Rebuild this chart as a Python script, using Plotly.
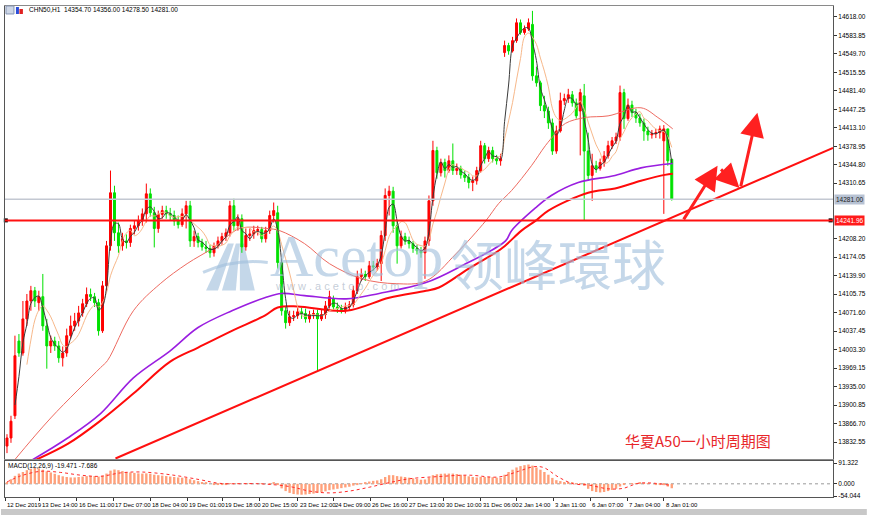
import plotly.graph_objects as go
import pandas as pd

# ---------------- data ----------------
OPEN = [13825,13840,13881,14019,13997,14060,14093,14112,14090,14101,
        14047,14010,14019,14010,13988,13997,14029,14047,14056,14071,
        14088,14105,14101,14090,14038,14121,14195,14293,14219,14195,
        14204,14201,14227,14232,14241,14254,14291,14256,14227,14253,
        14260,14254,14251,14241,14234,14254,14269,14204,14212,14201,
        14193,14190,14182,14195,14204,14212,14219,14269,14232,14245,
        14193,14214,14217,14223,14225,14208,14223,14251,14256,14164,
        14075,14053,14064,14066,14073,14070,14060,14068,14070,14060,
        14068,14084,14097,14082,14079,14077,14082,14086,14112,14138,
        14142,14138,14158,14156,14162,14214,14288,14296,14232,14195,
        14212,14204,14199,14190,14186,14182,14204,14278,14371,14330,
        14349,14334,14352,14334,14338,14326,14321,14312,14315,14334,
        14380,14356,14371,14356,14352,14552,14565,14555,14574,14607,
        14589,14596,14604,14509,14496,14454,14444,14422,14370,14407,
        14463,14467,14474,14459,14444,14472,14370,14325,14343,14338,
        14349,14361,14380,14389,14396,14478,14430,14455,14441,14431,
        14422,14407,14400,14402,14404,14389,14411,14354.70]
HIGH = [13847,13881,14029,14032,14093,14106,14121,14119,14112,14143,
        14060,14029,14027,14019,14009,14042,14066,14071,14084,14097,
        14118,14116,14108,14097,14130,14204,14334,14306,14238,14219,
        14216,14234,14241,14251,14264,14310,14301,14267,14260,14269,
        14269,14265,14260,14251,14264,14278,14278,14223,14219,14208,
        14204,14197,14201,14212,14219,14227,14278,14282,14253,14253,
        14227,14227,14232,14232,14230,14230,14260,14275,14269,14171,
        14084,14075,14075,14081,14081,14079,14075,14077,14077,14077,
        14093,14112,14103,14090,14086,14090,14093,14121,14149,14153,
        14149,14167,14167,14171,14223,14301,14306,14304,14241,14223,
        14219,14212,14204,14197,14193,14212,14288,14389,14378,14356,
        14356,14362,14384,14347,14343,14334,14328,14323,14341,14389,
        14385,14378,14378,14363,14365,14574,14570,14581,14615,14613,
        14602,14615,14629,14526,14500,14472,14452,14430,14417,14478,
        14476,14485,14481,14467,14485,14494,14404,14365,14352,14356,
        14370,14389,14396,14404,14491,14485,14467,14463,14448,14439,
        14430,14415,14409,14411,14417,14418,14411,14356.00]
LOW = [13812,13831,13875,13990,13992,14047,14075,14082,14075,14038,
       13968,13997,14001,13979,13972,13990,14023,14038,14046,14064,
       14082,14093,14082,14029,14034,14112,14186,14204,14182,14186,
       14190,14193,14216,14223,14232,14238,14249,14192,14219,14245,
       14245,14241,14232,14227,14230,14227,14193,14193,14192,14186,
       14182,14173,14175,14190,14197,14204,14212,14223,14223,14182,
       14186,14204,14208,14214,14201,14201,14217,14238,14153,14066,
       14042,14047,14056,14060,14060,14053,14053,14060,13964,14056,
       14060,14079,14075,14071,14070,14070,14075,14081,14106,14130,
       14130,14134,14149,14149,14130,14204,14251,14219,14162,14190,
       14197,14190,14182,14179,14173,14134,14195,14269,14319,14323,
       14321,14330,14326,14326,14319,14313,14301,14296,14308,14330,
       14347,14350,14349,14345,14343,14544,14548,14552,14570,14585,
       14585,14592,14500,14489,14444,14431,14411,14363,14365,14404,
       14455,14459,14452,14430,14362,14241,14315,14278,14330,14334,
       14341,14356,14374,14383,14389,14411,14426,14433,14422,14415,
       14389,14389,14393,14394,14393,14254,14343,14278.50]
CLOSE = [13840,13871,13992,13997,14060,14093,14112,14093,14101,14047,
         14010,14019,14010,13988,13997,14029,14047,14056,14071,14088,
         14105,14101,14090,14038,14121,14195,14293,14219,14195,14208,
         14201,14227,14232,14241,14254,14291,14256,14227,14253,14260,
         14254,14251,14241,14234,14254,14269,14204,14212,14201,14193,
         14190,14182,14195,14204,14212,14219,14269,14232,14245,14193,
         14214,14217,14223,14225,14208,14223,14251,14260,14164,14075,
         14053,14064,14066,14073,14070,14060,14068,14070,14060,14068,
         14084,14101,14082,14079,14077,14082,14086,14112,14138,14142,
         14138,14158,14156,14162,14214,14288,14296,14232,14195,14212,
         14204,14199,14190,14186,14182,14204,14278,14371,14330,14349,
         14334,14352,14334,14338,14326,14321,14312,14315,14334,14380,
         14356,14371,14356,14352,14356,14565,14555,14574,14607,14589,
         14596,14607,14509,14496,14454,14444,14422,14370,14407,14463,
         14467,14474,14459,14435,14478,14370,14325,14343,14338,14349,
         14361,14380,14389,14396,14478,14430,14455,14441,14431,14422,
         14407,14400,14402,14404,14411,14411,14352,14281.00]
BARS = list(range(len(CLOSE)))

# long moving averages (bar position, price)
MA_SALMON_X = [1.75, 11, 23.5, 25.25, 31.75, 38.5, 45.25, 51.75, 58.5, 65.25, 68.5, 74.75, 81, 89.25,
               97.75, 105.25, 112.75, 120.25, 123.5, 126.75, 131.75, 135.25, 137.75, 140.25, 145.25,
               151, 159.25, 163.5, 167.25]
MA_SALMON_Y = [13798, 13877, 13970, 13983, 14075, 14125, 14162, 14191, 14227, 14227, 14223, 14199, 14162,
               14134, 14125, 14130, 14180, 14241, 14273, 14297, 14343, 14380, 14402, 14421, 14432,
               14435, 14450, 14432, 14411]
MA_PURPLE_X = [6, 15.25, 23.5, 31.75, 41, 48, 56.5, 64.75, 69, 74.75, 85.25, 93.5, 105.25, 114.25,
               125.25, 126.75, 132.75, 136.75, 143.5, 152.75, 159.25, 167.25]
MA_PURPLE_Y = [13798, 13840, 13885, 13951, 14001, 14044, 14075, 14099, 14107, 14103, 14097, 14107,
               14127, 14158, 14204, 14223, 14265, 14288, 14312, 14325, 14339, 14347]
MA_RED_X = [6.75, 15.25, 23.5, 31.75, 41, 48, 56.5, 64.75, 68, 73, 85.25, 96, 105.25, 108.5, 116,
            124.25, 129.25, 132.75, 136, 146, 152.75, 159.25, 165.25, 167.25]
MA_RED_Y = [13798, 13829, 13872, 13922, 13981, 14007, 14038, 14066, 14081, 14083, 14075, 14099,
            14112, 14118, 14153, 14190, 14223, 14241, 14260, 14293, 14301, 14315, 14326, 14328]

# MACD(12,26,9)
MACD_MAIN = [5,20,35,45,52,60,66,70,68,62,
             55,50,44,38,33,30,28,28,30,32,
             34,35,34,32,36,45,58,63,60,56,
             52,50,48,46,45,46,44,40,38,36,
             34,32,30,28,27,26,20,16,12,8,
             4,0,-3,-4,-4,-3,1,2,3,0,
             -1,-1,0,0,-1,0,2,4,-5,-20,
             -32,-40,-45,-47,-48,-47,-45,-43,-40,-37,
             -33,-28,-25,-22,-19,-16,-13,-8,-2,3,
             6,10,13,15,20,30,38,38,34,32,
             30,27,24,21,18,19,26,38,42,44,
             45,45,45,43,40,37,33,30,28,31,
             30,30,29,27,26,40,52,62,72,78,
             82,85,80,72,62,52,40,26,16,12,
             8,6,4,2,2,-8,-22,-32,-36,-38,
             -36,-32,-27,-22,-12,-5,0,2,3,4,
             3,2,0,-2,-4,-6,-12,-19.471]
MACD_SIGNAL_X = [0, 3.5, 8.5, 13.5, 18.5, 23.5, 28.5, 33.5, 41, 48.5, 53.5, 63.5, 71, 76, 81, 86,
                 91, 96, 101, 108.5, 116, 123.5, 128.5, 132.25, 134.75, 138.5, 142.25, 146, 151,
                 154.75, 158.5, 162.25, 167]
MACD_SIGNAL_Y = [8, 35, 55, 50, 38, 33, 48, 52, 40, 18, 2, 0, -12, -32, -40, -32, -15, 5, 22, 32,
                 38, 30, 55, 75, 72, 30, 0, -5, -22, -20, 2, 3, -7.686]

# price-axis ticks (the two hidden under the level boxes are left out)
PRICE_TICKS = [14618.00, 14583.85, 14549.70, 14515.55, 14481.40, 14447.25, 14413.10, 14378.95,
               14344.80, 14310.65, 14208.20, 14174.05, 14139.90, 14105.75, 14071.60,
               14037.45, 14003.30, 13969.15, 13935.00, 13900.85, 13866.70, 13832.55]
MACD_TICKS = [91.322, 0.0, -54.044]

# horizontal levels / trend line / arrows
LEVEL_RED = 14241.96
LEVEL_BID = 14281.00
TREND_X = [27.25, 207.5]
TREND_Y = [13802, 14376]
ARROWS = [  # (tail bar, tail price, head bar, head price)
    (169.75, 14241, 178.5, 14343),
    (179.0, 14339, 184.0, 14302),
    (184.25, 14302, 188.5, 14441),
]

TIME_POS = [-0.45, 8.25, 17.5, 26.75, 36, 45.25, 54.25, 63.5, 73, 82, 91.25, 100.5,
            109.75, 119, 128, 137.25, 146.5, 155.75, 165]
TIME_TXT = ["12 Dec 2019", "13 Dec 14:00", "16 Dec 11:00", "17 Dec 07:00", "18 Dec 04:00",
            "19 Dec 01:00", "19 Dec 18:00", "20 Dec 15:00", "23 Dec 12:00", "24 Dec 09:00",
            "26 Dec 16:00", "27 Dec 13:00", "30 Dec 10:00", "31 Dec 06:00", "2 Jan 14:00",
            "3 Jan 11:00", "6 Jan 07:00", "7 Jan 04:00", "8 Jan 01:00"]

HEADER = "CHN50,H1  14354.70 14356.00 14278.50 14281.00"
TITLE_CN = "华夏A50一小时周期图"

# ---------------- figure ----------------
W, H = 870, 515
ML, MR, MT, MB = 4, 34, 5, 18
PW, PH = W - ML - MR, H - MT - MB


def px(x):
    return (x - ML) / PW


def py(y):
    return (H - MB - y) / PH


FONT = "Liberation Sans"
closes = pd.Series(CLOSE)
ma_fast = closes.rolling(3).mean()
ma_mid = closes.rolling(6).mean()

fig = go.Figure()

# MACD zero level
fig.add_shape(type="line", xref="x2 domain", yref="y2", x0=0, x1=1, y0=0, y1=0,
              line=dict(color="#9a9a9a", width=1, dash="dot"), layer="below")

fig.add_trace(go.Bar(x=BARS, y=MACD_MAIN, width=0.6, marker=dict(color="#ffa07a", line=dict(width=0)),
                     xaxis="x2", yaxis="y2", hoverinfo="skip"))
fig.add_trace(go.Scatter(x=MACD_SIGNAL_X, y=MACD_SIGNAL_Y, mode="lines", xaxis="x2", yaxis="y2",
                         line=dict(color="#ff2a2a", width=1, dash="dot", shape="spline"), hoverinfo="skip"))

# long MAs
fig.add_trace(go.Scatter(x=MA_SALMON_X, y=MA_SALMON_Y, mode="lines",
                         line=dict(color="#ee6a60", width=1, shape="spline"), hoverinfo="skip"))
fig.add_trace(go.Scatter(x=MA_PURPLE_X, y=MA_PURPLE_Y, mode="lines",
                         line=dict(color="#9a1ee0", width=1.6, shape="spline"), hoverinfo="skip"))
fig.add_trace(go.Scatter(x=MA_RED_X, y=MA_RED_Y, mode="lines",
                         line=dict(color="#ff0a0a", width=2, shape="spline"), hoverinfo="skip"))

# trend line
fig.add_trace(go.Scatter(x=TREND_X, y=TREND_Y, mode="lines",
                         line=dict(color="#ff1010", width=2), hoverinfo="skip", cliponaxis=True))

# candles
fig.add_trace(go.Candlestick(x=BARS, open=OPEN, high=HIGH, low=LOW, close=CLOSE,
                             increasing=dict(line=dict(color="#ff0000", width=1), fillcolor="#ff0000"),
                             decreasing=dict(line=dict(color="#00e000", width=1), fillcolor="#00e000"),
                             whiskerwidth=0, hoverinfo="skip"))

# short MAs
fig.add_trace(go.Scatter(x=BARS, y=ma_mid, mode="lines",
                         line=dict(color="#f7b88a", width=1, shape="spline"), hoverinfo="skip"))
fig.add_trace(go.Scatter(x=BARS, y=ma_fast, mode="lines",
                         line=dict(color="#3a3a3a", width=1, shape="spline"), hoverinfo="skip"))

# horizontal levels
fig.add_shape(type="line", xref="x domain", yref="y", x0=0, x1=1, y0=LEVEL_BID, y1=LEVEL_BID,
              line=dict(color="#c3c8d2", width=1.5))
fig.add_shape(type="line", xref="x domain", yref="y", x0=0, x1=1, y0=LEVEL_RED, y1=LEVEL_RED,
              line=dict(color="#ff1010", width=2))
fig.add_trace(go.Scatter(x=[-0.3, 206.9], y=[LEVEL_RED, LEVEL_RED], mode="markers",
                         marker=dict(symbol="square", size=4, color="black"), cliponaxis=False,
                         hoverinfo="skip"))

annotations = []
for tx, ty, hx, hy in ARROWS:
    annotations.append(dict(x=hx, y=hy, ax=tx, ay=ty, xref="x", yref="y", axref="x", ayref="y",
                            showarrow=True, arrowhead=2, arrowsize=1.6, arrowwidth=3,
                            arrowcolor="#ff2020", text="", standoff=0, startstandoff=0))

# right-axis labels for levels
annotations.append(dict(x=1, xref="paper", y=LEVEL_BID, yref="y", xanchor="left", xshift=1,
                        text="14281.00", showarrow=False, bgcolor="#b7c2d3", borderpad=1,
                        font=dict(family=FONT, size=6.5, color="#222222")))
annotations.append(dict(x=1, xref="paper", y=LEVEL_RED, yref="y", xanchor="left", xshift=1,
                        text="14241.96", showarrow=False, bgcolor="#ff1a1a", borderpad=1,
                        font=dict(family=FONT, size=6.5, color="white")))

# time labels
for tp, tt in zip(TIME_POS, TIME_TXT):
    annotations.append(dict(x=tp, xref="x2", y=py(505), yref="paper", xanchor="left", yanchor="middle",
                            xshift=0, text=tt, showarrow=False,
                            font=dict(family=FONT, size=6, color="black")))

# header and indicator label
annotations.append(dict(x=px(26), y=py(9), xref="paper", yref="paper", xanchor="left", yanchor="middle",
                        text=HEADER, showarrow=False, font=dict(family=FONT, size=6.5, color="black")))
annotations.append(dict(x=px(5), y=py(466), xref="paper", yref="paper", xanchor="left", yanchor="middle",
                        text="MACD(12,26,9) -19.471 -7.686", showarrow=False,
                        font=dict(family=FONT, size=6.5, color="black")))

# chinese title
annotations.append(dict(x=px(700), y=py(440), xref="paper", yref="paper", xanchor="center", yanchor="middle",
                        text=TITLE_CN, showarrow=False,
                        font=dict(family="Noto Sans CJK SC", size=15, color="#e8262a")))

# watermark
wm = "rgba(160,190,220,0.62)"
annotations.append(dict(x=px(357), y=py(256), xref="paper", yref="paper", xanchor="center", yanchor="middle",
                        text="Acetop", showarrow=False,
                        font=dict(family="Liberation Serif", size=60, color=wm)))
annotations.append(dict(x=px(560), y=py(262), xref="paper", yref="paper", xanchor="center", yanchor="middle",
                        text="领峰環球", showarrow=False,
                        font=dict(family="Noto Sans CJK SC", size=54, color=wm)))
annotations.append(dict(x=px(338), y=py(286), xref="paper", yref="paper", xanchor="center", yanchor="middle",
                        text="w w w . a c e t o p . c o m", showarrow=False,
                        font=dict(family="Liberation Sans", size=11, color="rgba(165,178,195,0.65)")))

shapes = []
# logo "A" stripes
for poly in [[(206, 290), (218, 290), (234, 243), (228, 243)],
             [(222, 290), (236, 290), (240, 243), (236, 243)],
             [(240, 290), (255, 290), (244, 243), (240, 243)]]:
    path = "M " + " L ".join(f"{px(a):.4f},{py(b):.4f}" for a, b in poly) + " Z"
    shapes.append(dict(type="path", xref="paper", yref="paper", path=path, fillcolor=wm,
                       line=dict(width=0), layer="below"))
shapes.append(dict(type="path", xref="paper", yref="paper",
                   path=f"M {px(203):.4f},{py(272):.4f} Q {px(235):.4f},{py(258):.4f} {px(268):.4f},{py(262):.4f}",
                   line=dict(color=wm, width=3), layer="below"))
# header icons
shapes.append(dict(type="rect", xref="paper", yref="paper", x0=px(5), x1=px(13), y0=py(13), y1=py(5),
                   fillcolor="#cdd6e6", line=dict(color="#8796b5", width=1)))
shapes.append(dict(type="rect", xref="paper", yref="paper", x0=px(15), x1=px(18), y0=py(13), y1=py(6),
                   fillcolor="#2a4cd8", line=dict(width=0)))
shapes.append(dict(type="rect", xref="paper", yref="paper", x0=px(18.5), x1=px(22), y0=py(13), y1=py(8),
                   fillcolor="#e02020", line=dict(width=0)))
# bottom tab strip
shapes.append(dict(type="rect", xref="paper", yref="paper", x0=-ML / PW, x1=1 + MR / PW,
                   y0=py(515), y1=py(509), fillcolor="#c8c8c8", line=dict(width=0)))

for s in shapes:
    fig.add_shape(**s)

main_bottom = py(459)
macd_top = py(461)

fig.update_layout(
    width=W, height=H, margin=dict(l=ML, r=MR, t=MT, b=MB),
    paper_bgcolor="white", plot_bgcolor="white", showlegend=False,
    annotations=annotations,
    xaxis=dict(domain=[0, 1], range=[-0.5, 207.5], anchor="y", showticklabels=False, showgrid=False,
               zeroline=False, showline=True, linecolor="#8a8a8a", linewidth=1, mirror=True,
               rangeslider=dict(visible=False), ticks=""),
    yaxis=dict(domain=[main_bottom, 1], range=[13801, 14638], side="right", anchor="x",
               tickvals=PRICE_TICKS, tickformat=".2f", ticks="outside", ticklen=3,
               tickcolor="#333333", showline=True, linecolor="#555555", linewidth=1, mirror=True,
               showgrid=False, zeroline=False, tickfont=dict(family=FONT, size=6.5, color="black")),
    xaxis2=dict(domain=[0, 1], range=[-0.5, 207.5], anchor="y2", showticklabels=False, showgrid=False,
                zeroline=False, showline=True, linecolor="#555555", linewidth=1, mirror=True,
                tickvals=TIME_POS, ticks="outside", ticklen=3, tickcolor="#333333"),
    yaxis2=dict(domain=[0, macd_top], range=[-58, 100], side="right", anchor="x2",
                tickvals=MACD_TICKS, ticktext=["91.322", "0.000", "-54.044"],
                ticks="outside", ticklen=3, tickcolor="#333333", showline=True, linecolor="#555555",
                linewidth=1, mirror=True, showgrid=False, zeroline=False,
                tickfont=dict(family=FONT, size=6.5, color="black")),
)

fig.write_html("out.html", config={"displayModeBar": False},
               post_script="document.body.style.margin='0px';document.body.style.overflow='hidden';")
